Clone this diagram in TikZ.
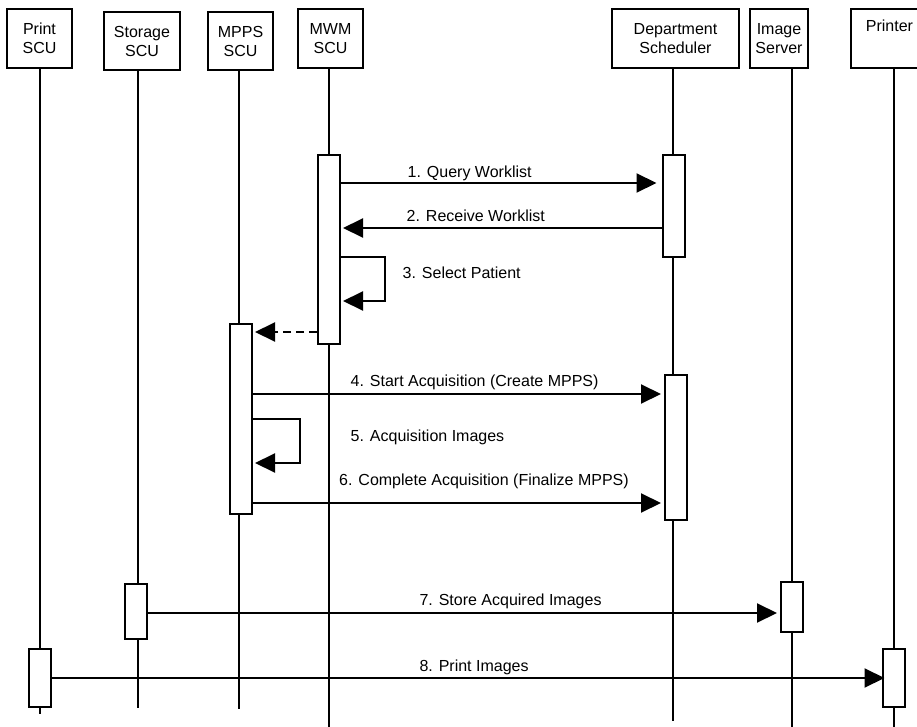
\documentclass[tikz,border=0pt]{standalone}
\usepackage{fontspec}
\setmainfont{Liberation Sans}
\usetikzlibrary{arrows.meta}
\begin{document}
\begin{tikzpicture}[x=1bp,y=-1bp, font=\fontsize{16bp}{19bp}\selectfont,
  head/.style={draw, line width=2bp, align=center, inner sep=0bp},
  act/.style={draw, fill=white, line width=2bp, minimum width=22bp, inner sep=0bp},
  life/.style={line width=2bp},
  msg/.style={line width=2bp, -{Triangle[length=20bp,width=19bp]}},
  lbl/.style={anchor=base west, inner sep=0bp}]
\useasboundingbox (0,0) rectangle (917,727);

% header boxes
\node[head, minimum width=65bp, minimum height=59bp] (print) at (39.5,38.5) {Print\\SCU};
\node[head, minimum width=76bp, minimum height=58bp] (stor) at (142,41) {Storage\\SCU};
\node[head, minimum width=65bp, minimum height=58bp] (mpps) at (240.5,41) {MPPS\\SCU};
\node[head, minimum width=65bp, minimum height=59bp] (mwm) at (330.5,38.5) {MWM\\SCU};
\node[head, minimum width=127bp, minimum height=59bp] (dept) at (675.5,38.5) {Department\\Scheduler};
\node[head, minimum width=58bp, minimum height=59bp] (img) at (779,38.5) {Image\\Server};
\node[head, minimum width=77bp, minimum height=59bp] (prt) at (889.5,38.5) {Printer\\\strut};

% lifeline ends
\coordinate (printEnd) at (40,714);
\coordinate (storEnd) at (138,708);
\coordinate (mppsEnd) at (239,709);
\coordinate (mwmEnd) at (329,727);
\coordinate (deptEnd) at (673,721);
\coordinate (imgEnd) at (792,727);
\coordinate (prtEnd) at (894,727);

\draw[life] (print.south -| printEnd) -- (printEnd);
\draw[life] (stor.south -| storEnd) -- (storEnd);
\draw[life] (mpps.south -| mppsEnd) -- (mppsEnd);
\draw[life] (mwm.south -| mwmEnd) -- (mwmEnd);
\draw[life] (dept.south -| deptEnd) -- (deptEnd);
\draw[life] (img.south -| imgEnd) -- (imgEnd);
\draw[life] (prt.south -| prtEnd) -- (prtEnd);

% activation boxes
\node[act, minimum height=189bp] (mwmAct) at (329,249.5) {};
\node[act, minimum height=102bp] (deptA) at (674,206) {};
\node[act, minimum height=190bp] (mppsAct) at (241,419) {};
\node[act, minimum height=145bp] (deptB) at (676,447.5) {};
\node[act, minimum height=55bp] (storAct) at (136,611.5) {};
\node[act, minimum height=50bp] (imgAct) at (792,607) {};
\node[act, minimum height=58bp] (printAct) at (40,678) {};
\node[act, minimum height=58bp] (prtAct) at (894,678) {};

% message levels
\coordinate (y1) at (0,183);
\coordinate (y2) at (0,228);
\coordinate (y3a) at (0,257);
\coordinate (y3b) at (0,301);
\coordinate (yd) at (0,332);
\coordinate (y4) at (0,394);
\coordinate (y5a) at (0,419);
\coordinate (y5b) at (0,463);
\coordinate (y6) at (0,503);
\coordinate (y7) at (0,613);
\coordinate (y8) at (0,678);

% messages
\draw[msg, shorten >=5.5bp] (mwmAct.east |- y1) -- (deptA.west |- y1);
\draw[msg, shorten >=2bp] (deptA.west |- y2) -- (mwmAct.east |- y2);
\draw[msg, shorten >=2bp] (mwmAct.east |- y3a) -- ++(44,0) |- (mwmAct.east |- y3b);
\draw[msg, dash pattern=on 8bp off 5bp, shorten >=2bp] (mwmAct.west |- yd) -- (mppsAct.east |- yd);
\draw[msg, shorten >=3bp] (mppsAct.east |- y4) -- (deptB.west |- y4);
\draw[msg, shorten >=2bp] (mppsAct.east |- y5a) -- ++(47,0) |- (mppsAct.east |- y5b);
\draw[msg, shorten >=3bp] (mppsAct.east |- y6) -- (deptB.west |- y6);
\draw[msg, shorten >=3bp] (storAct.east |- y7) -- (imgAct.west |- y7);
\draw[msg, shorten >=-2.5bp] (printAct.east |- y8) -- (prtAct.west |- y8);

% labels
\node[lbl] (l1) at (407.5,178) {1. Query Worklist};
\node[lbl] (l2) at (406.5,221) {2. Receive Worklist};
\node[lbl] (l3) at (402.5,278.3) {3. Select Patient};
\node[lbl] (l4) at (350.5,386.7) {4. Start Acquisition (Create MPPS)};
\node[lbl] (l5) at (350.5,441) {5. Acquisition Images};
\node[lbl] (l6) at (339,485) {6. Complete Acquisition (Finalize MPPS)};
\node[lbl] (l7) at (419.3,605) {7. Store Acquired Images};
\node[lbl] (l8) at (419.3,671) {8. Print Images};
\end{tikzpicture}
\end{document}
